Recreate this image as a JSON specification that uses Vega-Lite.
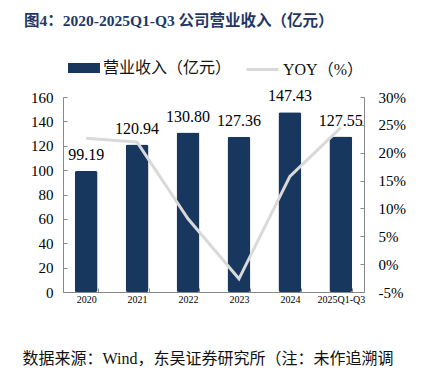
{
  "$schema": "https://vega.github.io/schema/vega-lite/v6.json",
  "autosize": {"type": "none"},
  "width": 301,
  "height": 195,
  "padding": {"left": 63, "top": 97, "right": 59, "bottom": 87},
  "background": "white",
  "title": {
    "text": "图4：2020-2025Q1-Q3 公司营业收入（亿元）",
    "anchor": "start",
    "frame": "group",
    "dx": -39,
    "offset": 23,
    "font": "Liberation Serif, Noto Sans CJK SC",
    "fontSize": 15.5,
    "fontWeight": "bold",
    "color": "#1f3864"
  },
  "config": {
    "view": {"stroke": null},
    "font": "Liberation Serif",
    "axis": {"grid": false, "labelFont": "Liberation Serif", "labelColor": "#000000"},
    "legend": {"labelFont": "Liberation Serif, Noto Sans CJK SC", "labelFontSize": 16, "labelColor": "#111111", "padding": 0}
  },
  "data": {
    "values": [
      {"year": "2020", "rev": 99.19, "yoy": 0.226},
      {"year": "2021", "rev": 120.94, "yoy": 0.219},
      {"year": "2022", "rev": 130.80, "yoy": 0.0815},
      {"year": "2023", "rev": 127.36, "yoy": -0.0263},
      {"year": "2024", "rev": 147.43, "yoy": 0.1576},
      {"year": "2025Q1-Q3", "rev": 127.55, "yoy": 0.245}
    ]
  },
  "encoding": {
    "x": {
      "field": "year",
      "type": "nominal",
      "sort": null,
      "scale": {"paddingInner": 0.55, "paddingOuter": 0.23},
      "axis": {
        "title": "数据来源：Wind，东吴证券研究所（注：未作追溯调",
        "titleFont": "Liberation Serif, Noto Sans CJK SC",
        "titleFontWeight": "normal",
        "titleFontSize": 16,
        "titleColor": "#111111",
        "titleAnchor": "start",
        "titleAlign": "left",
        "titleX": -41,
        "titleY": 58,
        "labelAngle": 0,
        "labelFontSize": 10,
        "labelPadding": 6,
        "domainColor": "#888888",
        "tickColor": "#888888",
        "tickBand": "extent",
        "tickSize": -4
      }
    }
  },
  "layer": [
    {
      "mark": {"type": "bar", "color": "#17375e", "cornerRadius": 2},
      "encoding": {
        "y": {
          "field": "rev",
          "type": "quantitative",
          "scale": {"domain": [0, 160]},
          "axis": {
            "title": null,
            "values": [0, 20, 40, 60, 80, 100, 120, 140, 160],
            "labelFontSize": 15,
            "labelPadding": 14,
            "tickSize": -4,
            "domainColor": "#888888",
            "tickColor": "#888888"
          }
        },
        "fill": {
          "datum": "营业收入（亿元）",
          "scale": {"range": ["#17375e"]},
          "legend": {
            "orient": "none",
            "legendX": 5,
            "legendY": -45,
            "title": null,
            "symbolType": "M-1,-0.3125H1V0.3125H-1Z",
            "symbolSize": 1024,
            "symbolStrokeWidth": 0,
            "labelOffset": 3
          }
        }
      }
    },
    {
      "mark": {"type": "text", "baseline": "bottom", "dy": -8, "fontSize": 16, "font": "Liberation Serif", "color": "#000000"},
      "encoding": {
        "y": {"field": "rev", "type": "quantitative", "scale": {"domain": [0, 160]}, "axis": null},
        "text": {"field": "rev", "type": "quantitative", "format": ".2f"}
      }
    },
    {
      "mark": {"type": "line", "strokeWidth": 3, "color": "#d9d9d9"},
      "encoding": {
        "y": {
          "field": "yoy",
          "type": "quantitative",
          "scale": {"domain": [-0.05, 0.30]},
          "axis": {
            "orient": "right",
            "title": null,
            "format": ".0%",
            "labelExpr": "replace(datum.label, '−', '-')",
            "values": [-0.05, 0, 0.05, 0.1, 0.15, 0.2, 0.25, 0.3],
            "labelFontSize": 15,
            "labelPadding": 18,
            "tickSize": -4,
            "domainColor": "#888888",
            "tickColor": "#888888"
          }
        },
        "stroke": {
          "datum": "YOY（%）",
          "scale": {"range": ["#d9d9d9"]},
          "legend": {
            "orient": "none",
            "legendX": 182,
            "legendY": -45,
            "title": null,
            "symbolType": "stroke",
            "symbolSize": 1024,
            "symbolStrokeWidth": 3,
            "labelOffset": 3
          }
        }
      }
    }
  ],
  "resolve": {"scale": {"y": "independent"}}
}
